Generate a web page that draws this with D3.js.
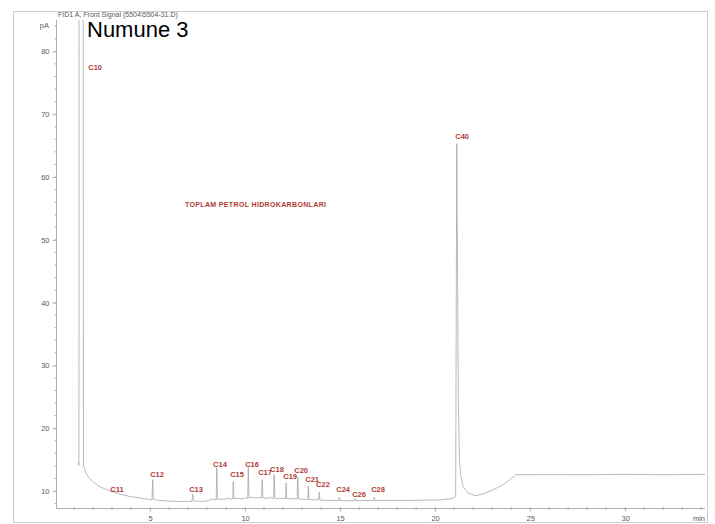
<!DOCTYPE html>
<html><head><meta charset="utf-8">
<script src="https://cdn.jsdelivr.net/npm/d3@7/dist/d3.min.js"></script>
<style>body{margin:0;background:#fff}svg{display:block}</style>
</head><body>
<svg id="chart" width="715" height="524"></svg>
<script>
// Chromatogram trace: [retention time (min), signal (pA)]
const trace = [
  [1.24,14.6],[1.25,14.1],[1.26,14.4],[1.27,100],[1.48,100],[1.50,13.9],
  [1.67,12.6],[1.83,12.0],[2.0,11.45],[2.37,10.66],[2.89,10.02],
  [3.02,9.85],[3.06,10.1],[3.10,9.8],[3.58,9.38],[4.0,9.1],[4.47,8.9],
  [5.0,8.62],[5.10,8.58],[5.14,11.8],[5.18,8.7],[5.5,8.5],[6.0,8.4],[6.6,8.33],
  [7.2,8.35],[7.25,9.5],[7.29,8.4],[7.8,8.35],[8.1,8.5],[8.25,8.75],[8.4,8.6],
  [8.48,8.6],[8.51,13.7],[8.55,8.7],[8.8,8.7],[9.0,8.75],[9.1,8.9],[9.2,8.7],
  [9.35,8.75],[9.38,11.5],[9.42,8.8],[9.6,8.85],[9.8,8.75],[9.95,8.9],
  [10.14,8.85],[10.17,13.7],[10.21,8.9],[10.4,9.0],[10.55,8.9],[10.7,8.95],
  [10.87,8.9],[10.9,11.8],[10.94,8.9],[11.1,8.85],[11.3,8.95],
  [11.5,8.85],[11.53,12.6],[11.57,8.85],[11.8,8.8],[12.0,8.85],
  [12.13,8.8],[12.16,11.3],[12.2,8.8],[12.45,8.75],[12.6,8.8],
  [12.74,8.75],[12.77,12.2],[12.81,8.75],[13.05,8.7],
  [13.3,8.65],[13.33,10.8],[13.37,8.65],[13.6,8.6],
  [13.87,8.6],[13.9,9.8],[13.94,8.55],[14.4,8.5],
  [14.93,8.5],[14.96,9.0],[15.0,8.5],[15.4,8.45],
  [15.77,8.45],[15.8,8.8],[15.84,8.45],[16.3,8.5],
  [16.77,8.5],[16.8,9.0],[16.84,8.5],[17.5,8.5],[18.5,8.5],[19.5,8.55],
  [20.3,8.6],[20.8,8.75],[21.0,8.9],[21.08,9.1],[21.14,65.3],[21.22,25],
  [21.28,15],[21.35,12.5],[21.47,10.7],[21.74,9.7],[22.1,9.27],[22.5,9.5],
  [23.05,10.2],[23.58,11.0],[24.05,12.1],[24.26,12.6],[26,12.62],[28,12.6],
  [30,12.65],[32,12.6],[34.2,12.65]
];
const peakLabels  = ["C10","C11","C12","C13","C14","C15","C16","C17","C18","C19","C20","C21","C22","C24","C26","C28","C40"];
const labelTimes  = [2.11,3.26,5.37,7.42,8.68,9.58,10.37,11.05,11.68,12.37,12.95,13.53,14.1,15.16,16.0,17.0,21.42];
const labelSignal = [77.1,9.9,12.2,9.9,13.9,12.2,13.9,12.5,13.1,11.85,12.8,11.5,10.6,9.9,9.1,9.9,66.0];
const xTicks = [5,10,15,20,25,30];
const yTicks = [10,20,30,40,50,60,70,80];
const xMinor = d3.range(1,35,1);
const yMinor = d3.range(8,85,2);

const svg = d3.select("#chart");
const x = d3.scaleLinear().domain([0,34.2]).range([55,705]);
const y = d3.scaleLinear().domain([7.3,85]).range([508,20]);
const font = "'Liberation Sans', Arial, sans-serif";
const axisCol = "#b0b0b0", textCol = "#5a5a5a", red = "#b03a35";

// outer frame
svg.append("rect").attr("x",13.5).attr("y",11.5).attr("width",694).attr("height",511)
  .attr("fill","none").attr("stroke","#cccccc").attr("stroke-width",1);

// header
svg.append("text").attr("x",58).attr("y",17).attr("font-family",font).attr("font-size",7)
  .attr("fill",textCol).text("FID1 A, Front Signal (5504\\5504-31.D)");
svg.append("text").attr("x",87).attr("y",37).attr("font-family",font).attr("font-size",22)
  .attr("fill","#000").text("Numune 3");
svg.append("text").attr("x",49).attr("y",28).attr("text-anchor","end").attr("font-family",font)
  .attr("font-size",7.5).attr("fill",textCol).text("pA");

// Y axis
const yAxis = d3.axisLeft(y).tickValues(yTicks).tickSize(4).tickPadding(3);
const gy = svg.append("g").attr("transform","translate(56.5,0)").call(yAxis);
gy.select(".domain").attr("stroke",axisCol).attr("d","M0,20V508");
gy.selectAll(".tick line").attr("stroke",axisCol);
gy.selectAll(".tick text").attr("font-family",font).attr("font-size",7.5).attr("fill",textCol);
gy.selectAll(".minor").data(yMinor).enter().append("line").attr("class","minor")
  .attr("x1",-2).attr("x2",0).attr("y1",d=>y(d)).attr("y2",d=>y(d)).attr("stroke",axisCol);

// X axis
const xAxis = d3.axisBottom(x).tickValues(xTicks).tickSize(3).tickPadding(4);
const gx = svg.append("g").attr("transform","translate(0,508.5)").call(xAxis);
gx.select(".domain").attr("stroke",axisCol).attr("d","M56,0H705");
gx.selectAll(".tick line").attr("stroke",axisCol);
gx.selectAll(".tick text").attr("font-family",font).attr("font-size",7.5).attr("fill",textCol);
gx.selectAll(".minor").data(xMinor).enter().append("line").attr("class","minor")
  .attr("x1",d=>x(d)).attr("x2",d=>x(d)).attr("y1",-1.5).attr("y2",1.5).attr("stroke",axisCol);
svg.append("text").attr("x",705).attr("y",521).attr("text-anchor","end").attr("font-family",font)
  .attr("font-size",7.5).attr("fill",textCol).text("min");

// trace
svg.append("clipPath").attr("id","plotclip").append("rect")
  .attr("x",56).attr("y",20).attr("width",650).attr("height",488);
svg.append("path").datum(trace).attr("clip-path","url(#plotclip)")
  .attr("fill","none").attr("stroke","#9c9c9c").attr("stroke-width",0.7)
  .attr("d",d3.line().x(d=>x(d[0])).y(d=>y(d[1])));

// peak labels
svg.selectAll(".plabel").data(peakLabels).enter().append("text").attr("class","plabel")
  .attr("x",(d,i)=>x(labelTimes[i])).attr("y",(d,i)=>y(labelSignal[i]))
  .attr("text-anchor","middle").attr("font-family",font).attr("font-size",7.5)
  .attr("font-weight","bold").attr("fill",red).text(d=>d);

svg.append("text").attr("x",185).attr("y",206.5).attr("font-family",font).attr("font-size",7)
  .attr("font-weight","bold").attr("fill",red).attr("textLength",141)
  .text("TOPLAM PETROL HIDROKARBONLARI");
</script>
</body></html>
